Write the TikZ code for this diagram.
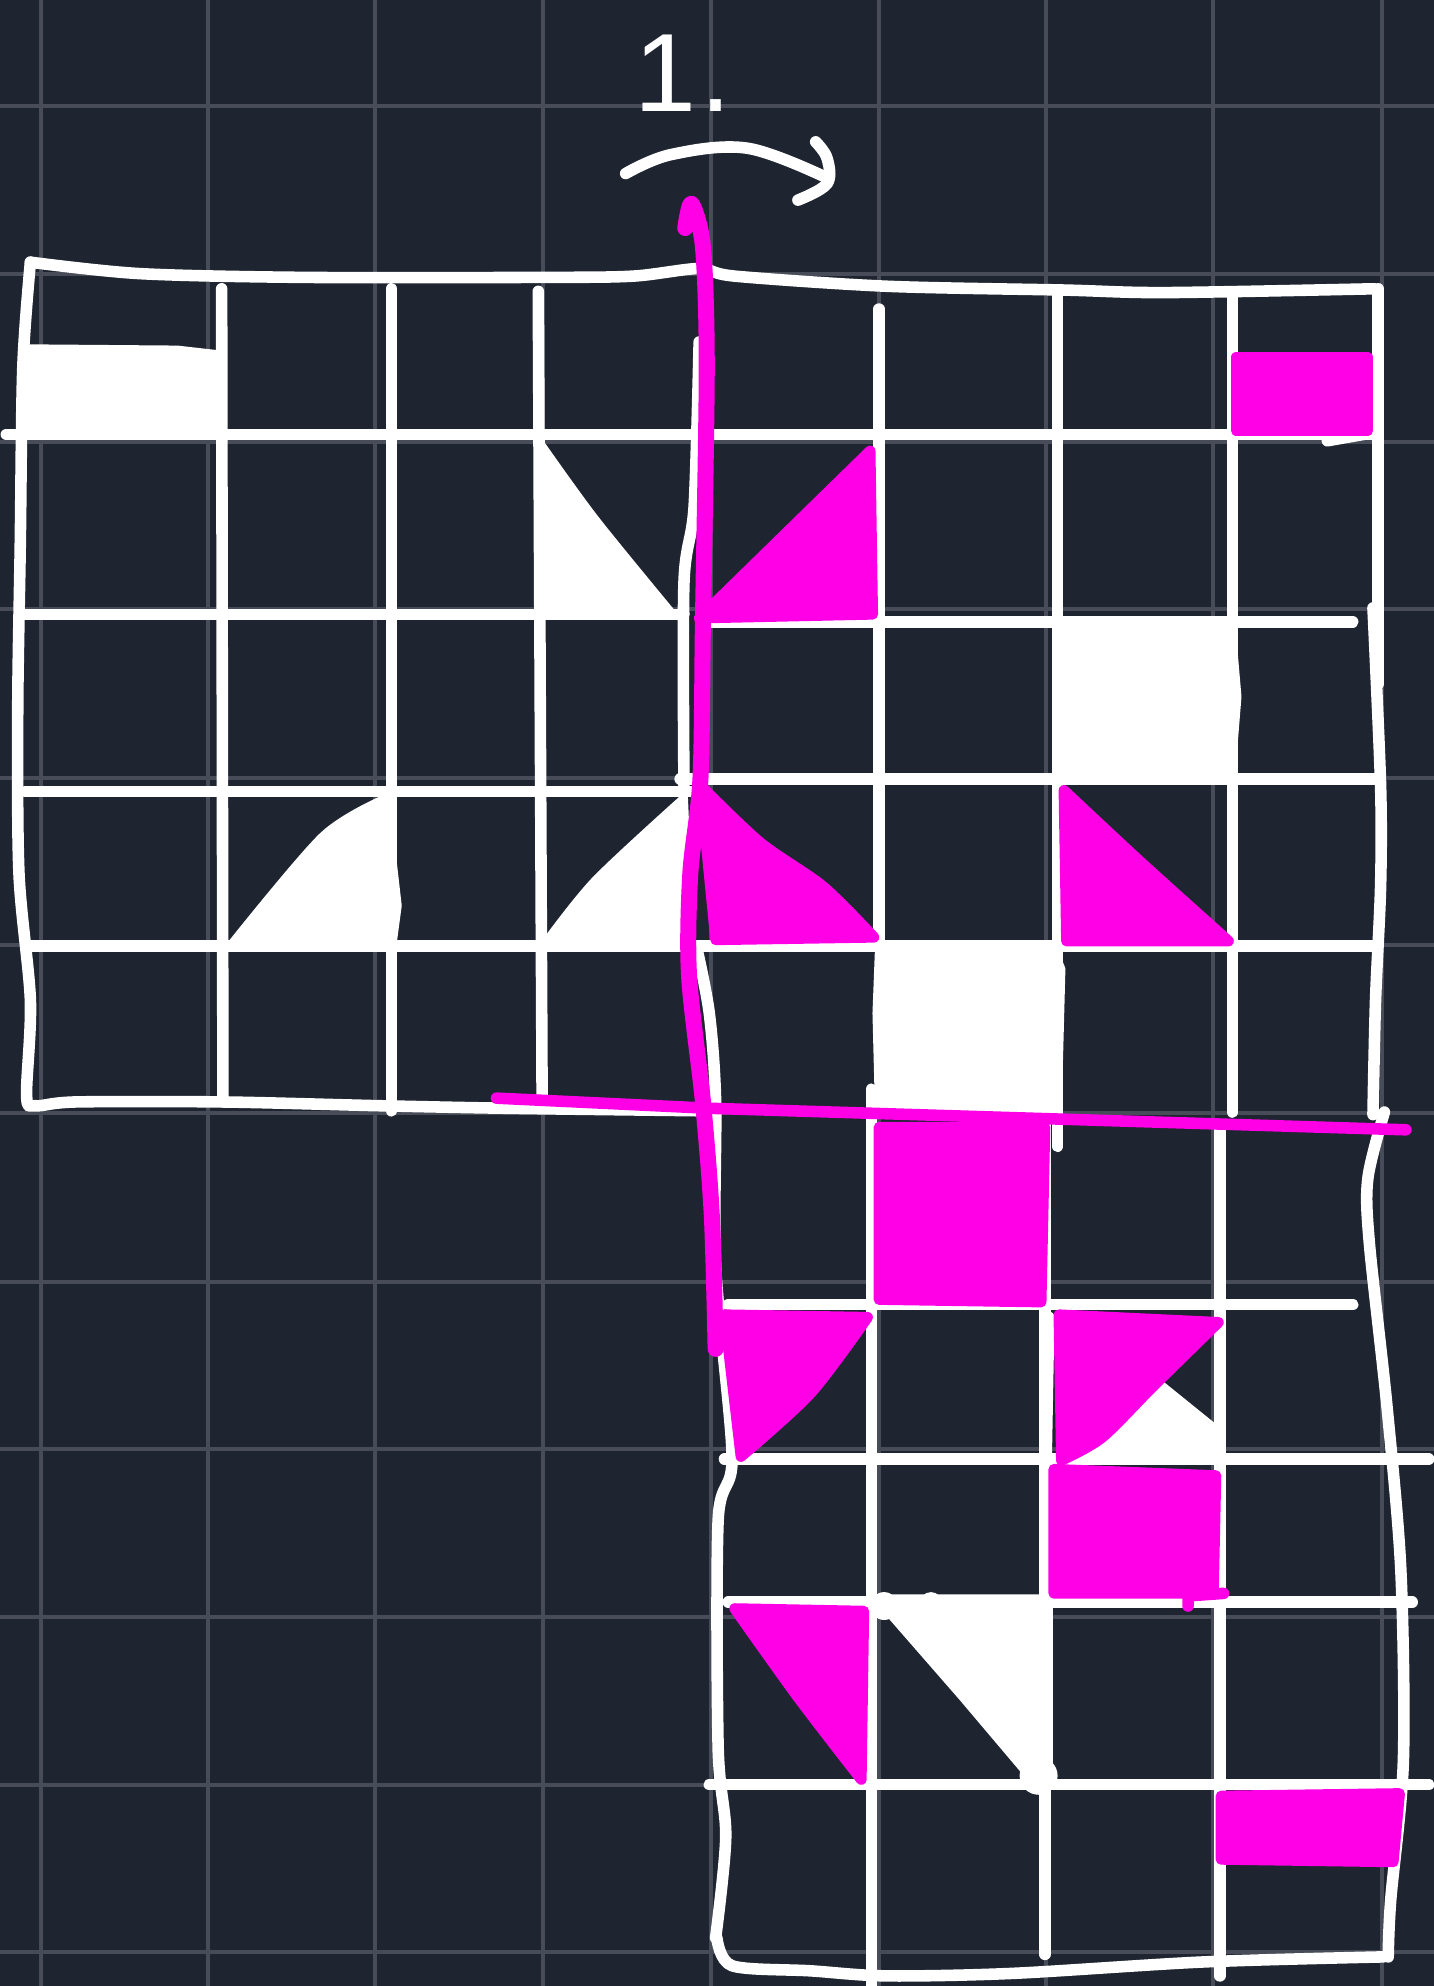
\documentclass[tikz,border=0pt]{standalone}
\usepackage{fontspec}
\setmainfont{Liberation Sans}
\definecolor{bgc}{HTML}{1E2430}
\definecolor{gridc}{HTML}{474C58}
\definecolor{mag}{HTML}{FF00E6}
\tikzset{
  wl/.style={draw=white,line width=13pt,line cap=round,line join=round},
  ml/.style={draw=mag,line width=18pt,line cap=round,line join=round},
  mh/.style={draw=mag,line width=13pt,line cap=round,line join=round},
  wf/.style={fill=white,draw=white,line width=9pt,line join=round},
  mf/.style={fill=mag,draw=mag,line width=12pt,line join=round},
  gl/.style={draw=gridc,line width=4.5pt},
}
\begin{document}
\begin{tikzpicture}[x=0.05cm,y=-0.05cm]
\useasboundingbox[fill=bgc] (0,0) rectangle (1132,1568);
% background grid
\foreach \gx in {32,164,296,429,561,694,826,958,1091}{\draw[gl] (\gx,0) -- (\gx,1568);}
\foreach \gy in {84,216,349,481,614,746,879,1012,1144,1277,1409,1541}{\draw[gl] (0,\gy) -- (1132,\gy);}
% white fills
\fill[wf] (20,275) -- (140,276) -- (175,280) -- (175,340) -- (20,340) -- cycle;
\fill[wf] plot[smooth,tension=.5] coordinates {(428,352) (470,410) (532,486)} -- (426,486) -- cycle;
\fill[wf] plot[smooth,tension=.5] coordinates {(183,745) (255,660) (305,630)} -- (310,680) -- (314,715) -- (310,745) -- cycle;
\fill[wf] plot[smooth,tension=.5] coordinates {(430,745) (470,695) (540,630)} -- (545,745) -- cycle;
\fill[wf] (835,492) -- (972,492) -- (977,550) -- (972,612) -- (835,612) -- cycle;
\fill[wf] (694,748) -- (830,746) -- (838,765) -- (835,878) -- (694,878) -- (692,800) -- cycle;
\fill[wf] (860,1150) -- (915,1092) -- (962,1130) -- (962,1150) -- cycle;
\fill[wf] (692,1262) -- (828,1262) -- (828,1400) -- (815,1405) -- (760,1340) -- cycle;
\fill[white] (820,1402) circle (15);
\fill[white] (698,1268) circle (11);
\fill[white] (735,1266) circle (9);
\fill[white] (823,754) circle (10);
% white long lines
\draw[wl] plot[smooth,tension=.5] coordinates {(24,207) (18,290) (16,430) (14,560) (15,690) (24,790) (21,865) (28,873) (60,870) (175,870) (300,873) (400,875) (555,877)};
\draw[wl] plot[smooth,tension=.5] coordinates {(24,207) (110,216) (240,219) (430,219) (500,218) (552,212) (580,218) (700,226) (840,229) (920,231) (1085,228)};
\draw[wl] (1088,228) -- (1088,540);
\draw[wl] plot[smooth,tension=.5] coordinates {(1084,480) (1090,620) (1090,700) (1086,790) (1084,880)};
\draw[wl] plot[smooth,tension=.5] coordinates {(1093,878) (1080,930) (1081,980) (1095,1110) (1106,1240) (1108,1390) (1098,1500) (1096,1545)};
\draw[wl] plot[smooth,tension=.5] coordinates {(566,1530) (578,1552) (640,1556) (700,1560) (800,1558) (950,1549) (1092,1545)};
\draw[wl] plot[smooth,tension=.5] coordinates {(550,748) (560,800) (565,870) (565,1000) (578,1150) (567,1200) (567,1380) (573,1450) (565,1530)};
\draw[wl] plot[smooth,tension=.5] coordinates {(552,270) (548,400) (540,460) (540,620)};
% grid horizontals
\draw[wl] (5,343) -- (1085,343);
\draw[wl] (1048,348) -- (1082,342);
\draw[wl] (20,485) -- (540,485);
\draw[wl] (555,491) -- (1068,491);
\draw[wl] (20,625) -- (545,625);
\draw[wl] (537,615) -- (1085,615);
\draw[wl] (25,747) -- (1085,747);
\draw[wl] (575,1030) -- (1068,1030);
\draw[wl] (572,1152) -- (1128,1152);
\draw[wl] (575,1265) -- (1115,1265);
\draw[wl] (560,1409) -- (1128,1409);
% grid verticals
\draw[wl] (175,228) -- (176,870);
\draw[wl] (309,228) -- (309,877);
\draw[wl] (425,230) -- (428,866);
\draw[wl] (694,244) -- (694,745);
\draw[wl] (835,232) -- (835,905);
\draw[wl] (973,235) -- (973,878);
\draw[wl] (688,860) -- (688,1568);
\draw[wl] (825,885) -- (825,1543);
\draw[wl] (963,890) -- (963,1560);
\draw[wl] (828,1040) -- (826,1150);
% magenta fills
\fill[mf] (976,282) -- (1080,282) -- (1080,340) -- (976,340) -- cycle;
\fill[mf] (687,356) -- (689,485) -- (552,488) -- cycle;
\fill[mf] plot[smooth,tension=.5] coordinates {(553,620) (600,665) (650,700) (690,740)} -- (565,742) -- cycle;
\fill[mf] plot[smooth,tension=.5] coordinates {(840,624) (900,680) (970,743)} -- (842,743) -- cycle;
\fill[mf] (694,890) -- (825,890) -- (822,1028) -- (694,1026) -- cycle;
\fill[mf] plot[smooth,tension=.5] coordinates {(685,1040) (640,1100) (585,1150)} -- (572,1038) -- cycle;
\fill[mf] plot[smooth,tension=.5] coordinates {(962,1044) (910,1095) (870,1135) (838,1153)} -- (836,1038) -- cycle;
\fill[mf] (832,1160) -- (960,1165) -- (958,1258) -- (832,1258) -- cycle;
\draw[mh] (966,1258) -- (938,1260) -- (938,1268);
\fill[mf] plot[smooth,tension=.5] coordinates {(580,1270) (630,1340) (680,1405)} -- (682,1272) -- cycle;
\fill[mf] (964,1418) -- (1105,1416) -- (1100,1470) -- (964,1468) -- cycle;
% magenta lines
\draw[ml] plot[smooth,tension=.5] coordinates {(541,180) (546,161) (555,195) (558,290) (555,490) (553,615) (545,690) (544,770) (555,870) (562,960) (565,1065)};
\draw[mh] (392,867) -- (560,875) -- (1110,892);
% heading and arrow
\node[text=white,font=\fontsize{125}{125}\selectfont,inner sep=0pt,anchor=base west] (lbl) at (501,88) {1\kern4pt.};
\draw[wl] plot[smooth,tension=.6] coordinates {(494,137) (530,122) (590,117) (652,140)};
\draw[wl] plot[smooth,tension=.6] coordinates {(644,112) (653,125) (653,145) (630,158)};
\end{tikzpicture}
\end{document}
